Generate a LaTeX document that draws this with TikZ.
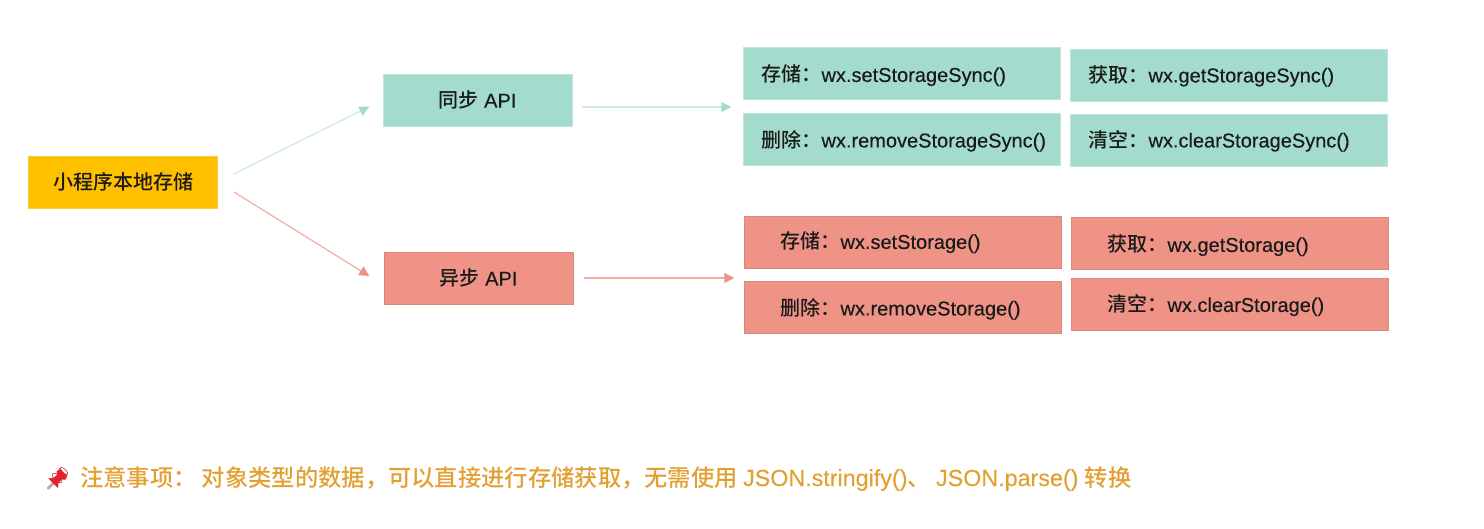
\documentclass[tikz,border=0pt]{standalone}
\usepackage{fontspec}
\setmainfont[FakeBold=0.25]{Liberation Sans}
\newfontfamily\cjk{Noto Sans CJK SC Medium}
\newfontfamily\emojifont{Noto Emoji}
\usetikzlibrary{arrows.meta}
\definecolor{tealbox}{HTML}{A3DCCC}
\definecolor{redbox}{HTML}{EE9386}
\definecolor{yellowbox}{HTML}{FFC000}
\definecolor{notetext}{HTML}{E2A033}
\definecolor{pinred}{HTML}{E3222F}
\definecolor{inktext}{HTML}{1A1A1A}
\newcommand{\lowertext}[2]{\raisebox{-#1pt}[\height][\depth]{#2}}
\tikzset{
  x=1pt,y=-1pt,
  base/.style={minimum height=52pt,inner sep=0pt,text=inktext,font=\fontsize{20}{24}\selectfont},
  headbox/.style={base,minimum width=189pt,align=center},
  tealfill/.style={fill=tealbox,draw=tealbox!70!white,line width=.5pt},
  redfill/.style={fill=redbox,draw=redbox!92!black,line width=.5pt},
  apibox/.style={base,minimum width=317pt,align=left,text width=#1},
  apibox/.default=281pt,
  tealarrow/.style={draw=tealbox!55!white,line width=1.2pt,-{Triangle[length=10pt,width=10pt,color=tealbox,fill=tealbox]}},
  redarrow/.style={draw=redbox!75!white,line width=1.2pt,-{Triangle[length=10pt,width=10pt,color=redbox,fill=redbox]}}
}
\begin{document}
\begin{tikzpicture}
\useasboundingbox (0,0) rectangle (1484,529);
\node[headbox,fill=yellowbox,draw=yellowbox!80!white,line width=.5pt,minimum width=189pt] (main) at (123,182) {{\cjk 小程序本地存储}};
\node[headbox,tealfill] (sync) at (477.5,100) {{\cjk 同步} API};
\node[headbox,redfill] (async) at (478.5,278) {{\cjk 异步} API};

\node[apibox,tealfill] (s1) at (902,73.5) {\lowertext{2}{{\cjk 存储：}wx.setStorageSync()}};
\node[apibox,tealfill] (s2) at (902,139) {\lowertext{2}{{\cjk 删除：}wx.removeStorageSync()}};
\node[apibox,tealfill] (s3) at (1229,75) {\lowertext{1}{{\cjk 获取：}wx.getStorageSync()}};
\node[apibox,tealfill] (s4) at (1229,140) {\lowertext{1}{{\cjk 清空：}wx.clearStorageSync()}};

\node[apibox=245pt,redfill] (a1) at (903,242) {\lowertext{0.5}{{\cjk 存储：}wx.setStorage()}};
\node[apibox=245pt,redfill] (a2) at (903,307) {\lowertext{2}{{\cjk 删除：}wx.removeStorage()}};
\node[apibox=245pt,redfill] (a3) at (1230,243.5) {\lowertext{2}{{\cjk 获取：}wx.getStorage()}};
\node[apibox=245pt,redfill] (a4) at (1230,304.5) {\lowertext{1}{{\cjk 清空：}wx.clearStorage()}};

\draw[tealarrow,shorten <=18pt,shorten >=15pt] (main.east) -- (sync.west);
\draw[redarrow,shorten <=19pt,shorten >=17pt] (main.east) -- ([yshift=-7pt]async.west);
\draw[tealarrow,shorten <=10pt,shorten >=12pt] ([yshift=-7pt]sync.east) -- ([yshift=-33.5pt]s1.west);
\draw[redarrow,shorten <=11pt,shorten >=10pt] (async.east) -- ([yshift=-36pt]a1.west);

\node[inner sep=0pt,text=pinred,font=\fontsize{20}{24}\selectfont\emojifont] (pin) at (58,477.5) {📌};
\begin{scope}[shift={(47.5,489)},rotate=45]
  \fill[white] (0,-2.5) rectangle (10,2.5);
  \draw[color=black!30,line width=3pt,line cap=round] (1,0) -- (9,0);
  \fill[pinred] (8,-7) -- (8,7) -- (12,3.5) -- (17,3.5) -- (19,6) -- (23,5) -- (23,-5) -- (19,-6) -- (17,-3.5) -- (12,-3.5) -- cycle;
\end{scope}
\node[anchor=west,inner sep=0pt,text=notetext,font=\fontsize{23.3}{27}\selectfont] (note) at (80,478.5) {{\cjk 注意事项： 对象类型的数据，可以直接进行存储获取，无需使用 }JSON.stringify(){\cjk 、 }JSON.parse() {\cjk 转换}};
\end{tikzpicture}
\end{document}
